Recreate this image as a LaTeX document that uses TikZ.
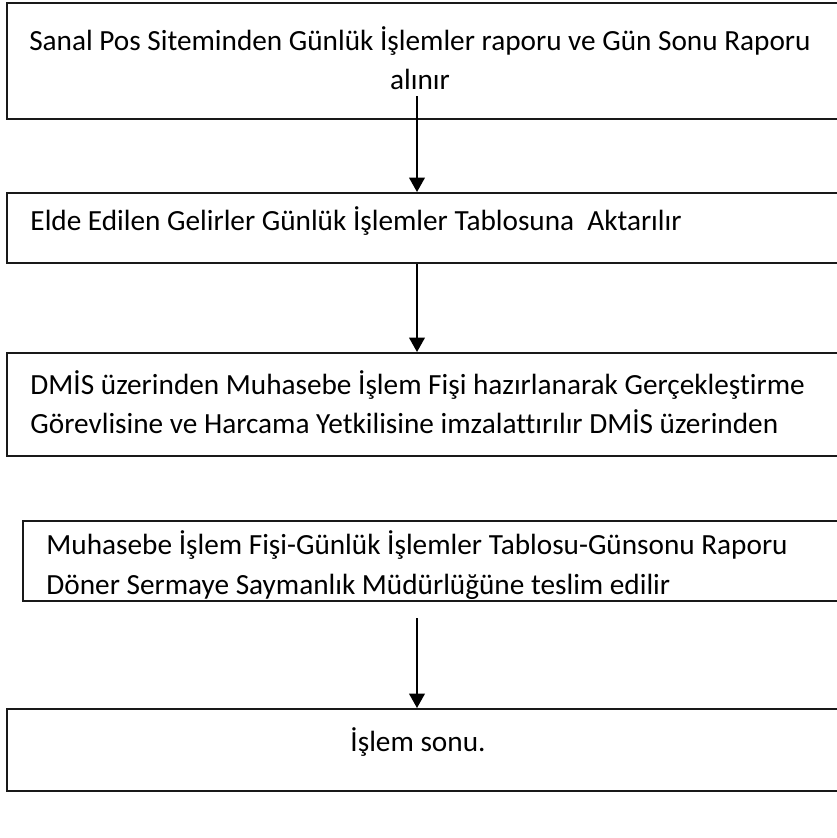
\documentclass[tikz,border=0pt]{standalone}
\usepackage{fontspec}
\setmainfont{Carlito}[Ligatures={NoCommon}]
\usetikzlibrary{arrows.meta,positioning}
\tikzset{%
    stepbox/.style={draw=black!90,line width=0.85pt,minimum width=400pt,anchor=north west,inner sep=0pt},
    steptxt/.style={font=\fontsize{12.2}{16.4}\selectfont,inner sep=0pt}
}

\begin{document}
\begin{tikzpicture}[
                x=0.417pt,y=-0.417pt,
                flow/.style={line width=0.85pt,-{Triangle[length=6pt,width=6.5pt]}}
            ]
            \clip (0,0) rectangle (837,838);
            \node[stepbox,minimum height=48.4pt] (b1) at (6,2){};
            \node[stepbox,minimum height=29.2pt] (b2) at (6,192){};
            \node[stepbox,minimum height=43pt] (b3) at (6,352){};
            \node[stepbox,minimum height=33.4pt] (b4) at (22,520){};
            \node[stepbox,minimum height=34.2pt] (b5) at (6,708){};

            \node[steptxt,align=center] (t1) at (420,58) {Sanal Pos Siteminden Günlük İşlemler raporu ve Gün Sonu Raporu\\alınır};
            \node[steptxt,anchor=west] (t2) at (30,221) {Elde Edilen Gelirler Günlük İşlemler Tablosuna\ \ Aktarılır};
            \node[steptxt,align=left,anchor=west] (t3) at (30,402) {DMİS üzerinden Muhasebe İşlem Fişi hazırlanarak Gerçekleştirme\\Görevlisine ve Harcama Yetkilisine imzalattırılır DMİS üzerinden};
            \node[steptxt,align=left,anchor=west] (t4) at (46,565) {Muhasebe İşlem Fişi-Günlük İşlemler Tablosu-Günsonu Raporu\\Döner Sermaye Saymanlık Müdürlüğüne teslim edilir};
            \node[steptxt] (t5) at (418,742) {İşlem sonu.};

            \coordinate (a1) at (417,96);
            \coordinate (a3) at (417,618);
            \draw[flow] (a1) -- (a1 |- b2.north);
            \draw[flow] (a1 |- b2.south) -- (a1 |- b3.north);
            \draw[flow] (a3) -- (a3 |- b5.north);
        \end{tikzpicture}
\end{document}
